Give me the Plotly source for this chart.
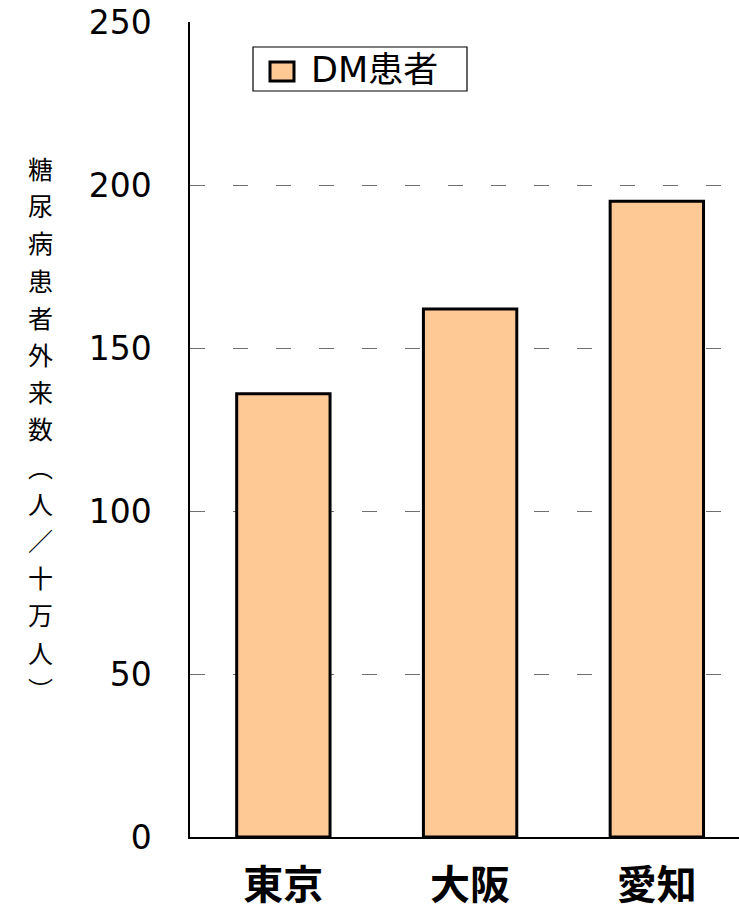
import plotly.graph_objects as go

# Outpatient diabetes patients per 100,000 population
prefectures = ["東京", "大阪", "愛知"]
dm_patients = [136, 162, 195]
series_name = "DM患者"
y_title_chars = ["糖", "尿", "病", "患", "者", "外", "来", "数", "︵", "人", "／", "十", "万", "人", "︶"]
y_ticks = [0, 50, 100, 150, 200, 250]

W, H = 739, 914
ML, MR, MT, MB = 190, 0, 22, 77
PW, PH = W - ML - MR, H - MT - MB

BAR_FILL = "#FFC996"
NUM_FONT = "DejaVu Sans, Liberation Sans, sans-serif"
CJK_FONT = "Noto Sans CJK JP, sans-serif"


def px_x(px):
    return (px - ML) / PW


def px_y(py):
    return (H - MB - py) / PH


fig = go.Figure()
fig.add_trace(go.Bar(
    x=prefectures,
    y=dm_patients,
    name=series_name,
    width=0.5,
    marker=dict(color=BAR_FILL, line=dict(color="black", width=3)),
    showlegend=False,
))

fig.update_layout(
    width=W, height=H,
    margin=dict(l=ML, r=MR, t=MT, b=MB),
    paper_bgcolor="white", plot_bgcolor="white",
    xaxis=dict(
        range=[-0.5, 2.44],
        automargin=False,
        showline=True, linecolor="black", linewidth=1.5,
        ticks="", showgrid=False,
        tickfont=dict(family=CJK_FONT, size=40, color="black", weight="bold"),
        ticklabelstandoff=12,
    ),
    yaxis=dict(
        range=[0, 250],
        automargin=False,
        tickvals=y_ticks,
        showline=True, linecolor="black", linewidth=1.5,
        ticks="", showgrid=True, gridcolor="#6f6f6f", gridwidth=1,
        griddash="15px,28px",
        zeroline=False,
        tickfont=dict(family=NUM_FONT, size=33, color="black"),
        ticklabelstandoff=30,
    ),
)

# vertical y-axis title, one character per line
for i, ch in enumerate(y_title_chars):
    fig.add_annotation(
        xref="paper", yref="paper",
        x=px_x(40), y=px_y(168 + i * 37.2),
        xanchor="center", yanchor="middle",
        text=ch, showarrow=False,
        font=dict(family=CJK_FONT, size=25, color="black"),
    )

# legend: frame, swatch and label
fig.add_shape(
    type="rect", xref="paper", yref="paper",
    x0=px_x(253), x1=px_x(467), y0=px_y(91), y1=px_y(47),
    fillcolor="white", line=dict(color="black", width=1.2),
)
fig.add_shape(
    type="rect", xref="paper", yref="paper",
    x0=px_x(270), x1=px_x(294), y0=px_y(81), y1=px_y(62),
    fillcolor=BAR_FILL, line=dict(color="black", width=3),
)
fig.add_annotation(
    xref="paper", yref="paper",
    x=px_x(309), y=px_y(70), xanchor="left", yanchor="middle",
    text=series_name, showarrow=False,
    font=dict(family="DejaVu Sans, Noto Sans CJK JP, sans-serif", size=35, color="black"),
)

fig.write_html("out.html")
